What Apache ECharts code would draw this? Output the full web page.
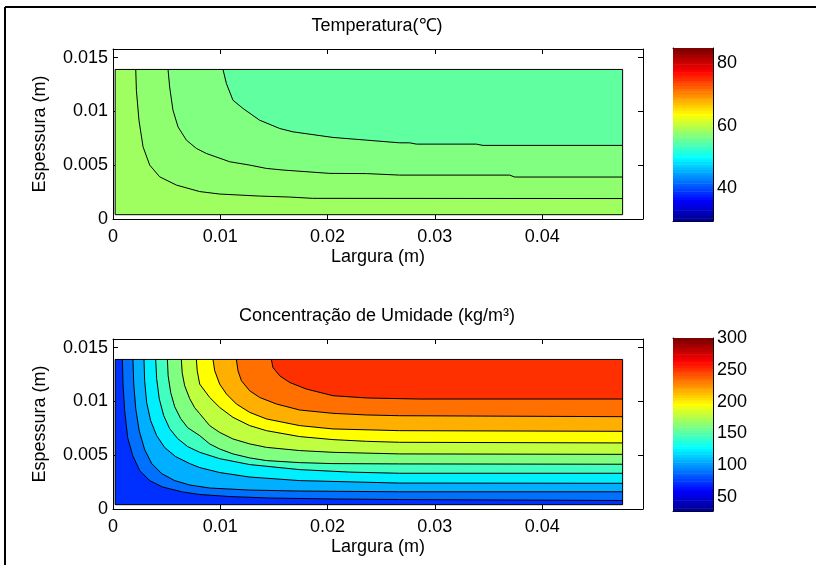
<!DOCTYPE html>
<html><head><meta charset="utf-8">
<script src="https://cdn.jsdelivr.net/npm/echarts@6/dist/echarts.min.js"></script>
<style>html,body{margin:0;padding:0;background:#fff;overflow:hidden}#c{width:816px;height:565px}</style>
</head><body><div id="c"></div>
<script>
// ---------- data ----------
const xTicks = [0, 0.01, 0.02, 0.03, 0.04];
const yTicks = [0, 0.005, 0.01, 0.015];
const xRange = [0, 0.0494];
const yRange = [0, 0.0158];
const domainX = [0.0002, 0.0475];
const domainY = [0.0004, 0.0139];

const tempRange = [29.6, 84.8];
const tempCbarTicks = [40, 60, 80];
const moistRange = [28, 300];
const moistCbarTicks = [50, 100, 150, 200, 250, 300];

// fill values of the temperature regions, from bottom-left to top-right
const tempLevels = [58.5, 57.6, 56.8, 55.0];
const tempLineA = [[0.00212,0.0139],[0.00218,0.01197],[0.00242,0.00918],[0.0028,0.00671],[0.00342,0.00501],[0.00435,0.00392],[0.00591,0.00315],[0.00808,0.00255],[0.00994,0.00232],[0.01367,0.00213],[0.01647,0.00204],[0.01861,0.00192],[0.0475,0.0019]];
const tempLineB = [[0.00513,0.0139],[0.00528,0.01227],[0.00559,0.01011],[0.00606,0.00856],[0.00684,0.00733],[0.00777,0.00656],[0.0087,0.00609],[0.01088,0.00532],[0.01274,0.00501],[0.0143,0.0047],[0.01584,0.00455],[0.0202,0.00424],[0.02362,0.00422],[0.02672,0.00408],[0.03697,0.00408],[0.03744,0.0039],[0.0475,0.0039]];
const tempLineC = [[0.01025,0.0139],[0.01057,0.01259],[0.01118,0.01104],[0.01212,0.01027],[0.01367,0.00918],[0.01554,0.00841],[0.01678,0.0081],[0.0205,0.00758],[0.02362,0.00733],[0.02672,0.00708],[0.02765,0.00708],[0.02828,0.00696],[0.03387,0.00696],[0.03448,0.00684],[0.0475,0.00684]];

// fill values of the moisture regions, from bottom-left to top-right
const moistLevels = [71, 89, 107, 125, 143, 161, 179, 197, 215, 233, 251];
const moistL1 = [[0.00088,0.0139],[0.00093,0.01164],[0.00109,0.00914],[0.00137,0.00663],[0.00184,0.00496],[0.00249,0.00357],[0.00342,0.00264],[0.00463,0.00204],[0.0065,0.00158],[0.00808,0.00135],[0.01088,0.00116],[0.0146,0.00102],[0.0205,0.00093],[0.02672,0.00088],[0.0475,0.00079]];
const moistL2 = [[0.00186,0.0139],[0.00193,0.01164],[0.00212,0.00932],[0.00244,0.00728],[0.00295,0.00552],[0.00361,0.00422],[0.00454,0.00329],[0.00575,0.00264],[0.00715,0.00223],[0.00901,0.00195],[0.01274,0.00176],[0.0174,0.00167],[0.02672,0.0016],[0.0475,0.0016]];
const moistL3 = [[0.00289,0.0139],[0.00295,0.01192],[0.00314,0.00988],[0.00351,0.00821],[0.00407,0.00682],[0.00482,0.00571],[0.00584,0.00487],[0.00715,0.00422],[0.00808,0.00385],[0.00994,0.00339],[0.01274,0.00297],[0.0174,0.00264],[0.02672,0.00241],[0.0475,0.00239]];
const moistL4 = [[0.00398,0.0139],[0.00407,0.01211],[0.00431,0.01025],[0.00473,0.00867],[0.00528,0.00747],[0.00603,0.00654],[0.00696,0.0058],[0.00808,0.00527],[0.00994,0.00468],[0.01274,0.00413],[0.0174,0.00366],[0.02206,0.00343],[0.02672,0.00332],[0.0475,0.00332]];
const moistL5 = [[0.00507,0.0139],[0.00514,0.01238],[0.00538,0.01081],[0.00575,0.00951],[0.00631,0.0084],[0.00696,0.00756],[0.00808,0.00682],[0.00901,0.00605],[0.00994,0.00558],[0.01118,0.00512],[0.01274,0.00475],[0.0143,0.0045],[0.0174,0.00431],[0.0205,0.00422],[0.02672,0.00419],[0.0475,0.00416]];
const moistL6 = [[0.00637,0.0139],[0.00645,0.01266],[0.00668,0.01146],[0.00715,0.01025],[0.00761,0.00942],[0.00808,0.00886],[0.00901,0.00775],[0.00994,0.00712],[0.01118,0.00651],[0.01274,0.00605],[0.0143,0.00573],[0.0174,0.00543],[0.0205,0.00527],[0.02672,0.00512],[0.0475,0.00508]];
const moistL7 = [[0.00777,0.0139],[0.00785,0.01285],[0.00808,0.01161],[0.00901,0.01037],[0.00994,0.00944],[0.01118,0.00852],[0.01274,0.00775],[0.0143,0.00728],[0.0174,0.00673],[0.0205,0.00645],[0.02362,0.00629],[0.02672,0.0062],[0.0475,0.00614]];
const moistL8 = [[0.00932,0.0139],[0.00948,0.01285],[0.00994,0.01161],[0.01057,0.01069],[0.0115,0.00976],[0.01274,0.00898],[0.0143,0.00837],[0.0174,0.00775],[0.0205,0.00744],[0.02672,0.00728],[0.0475,0.00722]];
const moistL9 = [[0.0115,0.0139],[0.01165,0.01285],[0.01197,0.01192],[0.01274,0.01099],[0.01367,0.01037],[0.01523,0.00976],[0.0174,0.0092],[0.0205,0.00889],[0.02362,0.00874],[0.02672,0.00867],[0.0475,0.00858]];
const moistL10 = [[0.01476,0.0139],[0.01491,0.01315],[0.01554,0.01238],[0.01647,0.01176],[0.01802,0.01115],[0.0205,0.01053],[0.02362,0.01032],[0.02858,0.01022],[0.0475,0.01022]];

const tempLines = [tempLineA, tempLineB, tempLineC];
const moistLines = [moistL1, moistL2, moistL3, moistL4, moistL5, moistL6, moistL7, moistL8, moistL9, moistL10];

// ---------- helpers ----------
const FONT = "'Liberation Sans', Arial, Helvetica, sans-serif";
const NCOL = 64;
function jet(k) { // MATLAB jet(64), 1-based row
  const n = Math.ceil(NCOL / 4);
  const u = [];
  for (let i = 1; i <= n; i++) u.push(i / n);
  for (let i = 1; i < n; i++) u.push(1);
  for (let i = n; i >= 1; i--) u.push(i / n);
  const off = Math.ceil(n / 2) - (NCOL % 4 === 1 ? 1 : 0);
  const get = idx => (idx >= 1 && idx <= u.length) ? u[idx - 1] : 0;
  const r = get(k - off - n), g = get(k - off), b = get(k - off + n);
  return 'rgb(' + Math.round(r * 255) + ',' + Math.round(g * 255) + ',' + Math.round(b * 255) + ')';
}
function colorOf(v, range) {
  let k = Math.floor((v - range[0]) / (range[1] - range[0]) * NCOL) + 1;
  k = Math.max(1, Math.min(NCOL, k));
  return jet(k);
}
function polysFor(lines, levels, range) {
  const polys = [{
    pts: [[domainX[0], domainY[0]], [domainX[1], domainY[0]], [domainX[1], domainY[1]], [domainX[0], domainY[1]]],
    color: colorOf(levels[levels.length - 1], range)
  }];
  for (let i = lines.length - 1; i >= 0; i--) {
    polys.push({
      pts: [[domainX[0], domainY[1]]].concat(lines[i], [[domainX[1], domainY[0]], [domainX[0], domainY[0]]]),
      color: colorOf(levels[i], range)
    });
  }
  return polys;
}
function fillSeries(polys, ax) {
  return {
    type: 'custom', xAxisIndex: ax, yAxisIndex: ax, silent: true, animation: false,
    data: polys.map(p => p.pts[0]),
    renderItem: (params, api) => {
      const p = polys[params.dataIndex];
      return { type: 'polygon', shape: { points: p.pts.map(q => api.coord(q)) }, style: { fill: p.color, stroke: null } };
    }
  };
}
function lineSeries(pts, ax) {
  return {
    type: 'line', xAxisIndex: ax, yAxisIndex: ax, data: pts, symbol: 'none', showSymbol: false,
    silent: true, animation: false, lineStyle: { color: '#000', width: 1 }, z: 3
  };
}
function cbarSeries(range, ax) {
  const d = (range[1] - range[0]) / NCOL;
  const rows = [];
  for (let k = 0; k < NCOL; k++) rows.push([0.5, range[0] + (k + 0.5) * d]);
  return {
    type: 'custom', xAxisIndex: ax, yAxisIndex: ax, silent: true, animation: false, data: rows,
    renderItem: (params, api) => {
      const k = params.dataIndex;
      const p0 = api.coord([0, range[0] + k * d]);
      const p1 = api.coord([1, range[0] + (k + 1) * d]);
      return { type: 'rect', shape: { x: p0[0], y: p1[1], width: p1[0] - p0[0], height: p0[1] - p1[1] + 0.5 }, style: { fill: jet(k + 1) } };
    }
  };
}
const txt = { color: '#000', fontFamily: FONT, fontSize: 18 };
function axis(o) {
  return Object.assign({
    type: 'value', splitLine: { show: false },
    axisLine: { show: true, onZero: false, lineStyle: { color: '#000', width: 1 } },
    axisTick: { show: false }, axisLabel: { show: false }
  }, o);
}
function ticks(vals, len) { return { show: true, inside: true, length: len, customValues: vals, lineStyle: { color: '#000', width: 1 } }; }
function labels(vals, margin) { return Object.assign({ show: true, customValues: vals, margin: margin, formatter: v => String(v) }, txt); }

const grids = [
  { left: 113, top: 49, width: 530, height: 170 },
  { left: 113, top: 339, width: 530, height: 170 },
  { left: 673, top: 48, width: 40, height: 173 },
  { left: 673, top: 338, width: 40, height: 173 }
];
const xAxes = [], yAxes = [];
[0, 1].forEach(g => {
  xAxes.push(axis({ gridIndex: g, position: 'bottom', min: xRange[0], max: xRange[1], axisTick: ticks(xTicks, 5), axisLabel: labels(xTicks, 9),
    name: 'Largura (m)', nameLocation: 'middle', nameGap: 29, nameTextStyle: txt }));
  yAxes.push(axis({ gridIndex: g, position: 'left', min: yRange[0], max: yRange[1], axisTick: ticks(yTicks, 5), axisLabel: labels(yTicks, 5),
    name: 'Espessura (m)', nameLocation: 'middle', nameGap: 64, nameTextStyle: txt }));
});
[0, 1].forEach(g => {
  xAxes.push(axis({ gridIndex: g, position: 'top', min: xRange[0], max: xRange[1], axisTick: ticks(xTicks, 5) }));
  yAxes.push(axis({ gridIndex: g, position: 'right', min: yRange[0], max: yRange[1], axisTick: ticks(yTicks, 5) }));
});
[[2, tempRange, tempCbarTicks], [3, moistRange, moistCbarTicks]].forEach(([g, r, t]) => {
  xAxes.push(axis({ gridIndex: g, position: 'bottom', min: 0, max: 1 }));
  yAxes.push(axis({ gridIndex: g, position: 'right', min: r[0], max: r[1], axisTick: ticks(t, 3), axisLabel: labels(t, 4) }));
});
[[2, tempRange, tempCbarTicks], [3, moistRange, moistCbarTicks]].forEach(([g, r, t]) => {
  xAxes.push(axis({ gridIndex: g, position: 'top', min: 0, max: 1 }));
  yAxes.push(axis({ gridIndex: g, position: 'left', min: r[0], max: r[1], axisTick: ticks(t, 3) }));
});
// axis indices: 0 top plot, 1 bottom plot, 4 top colorbar, 5 bottom colorbar
const border = [[domainX[0], domainY[0]], [domainX[1], domainY[0]], [domainX[1], domainY[1]], [domainX[0], domainY[1]], [domainX[0], domainY[0]]];

const series = [];
series.push(fillSeries(polysFor(tempLines, tempLevels, tempRange), 0));
tempLines.forEach(l => series.push(lineSeries(l, 0)));
series.push(lineSeries(border, 0));
series.push(fillSeries(polysFor(moistLines, moistLevels, moistRange), 1));
moistLines.forEach(l => series.push(lineSeries(l, 1)));
series.push(lineSeries(border, 1));
series.push(cbarSeries(tempRange, 4));
series.push(cbarSeries(moistRange, 5));

const chart = echarts.init(document.getElementById('c'), null, { renderer: 'canvas' });
chart.setOption({
  backgroundColor: '#fff',
  animation: false,
  grid: grids,
  xAxis: xAxes,
  yAxis: yAxes,
  series: series,
  graphic: [
    { type: 'line', shape: { x1: 5, y1: 7, x2: 820, y2: 7 }, style: { stroke: '#000', lineWidth: 2 }, silent: true },
    { type: 'line', shape: { x1: 5, y1: 7, x2: 5, y2: 570 }, style: { stroke: '#000', lineWidth: 2 }, silent: true },
    { type: 'text', x: 377, y: 26, style: { text: 'Temperatura(℃)', align: 'center', verticalAlign: 'middle', fill: '#000', font: '18px ' + FONT } },
    { type: 'text', x: 377, y: 316, style: { text: 'Concentração de Umidade (kg/m³)', align: 'center', verticalAlign: 'middle', fill: '#000', font: '18px ' + FONT } }
  ]
});
</script>
</body></html>
